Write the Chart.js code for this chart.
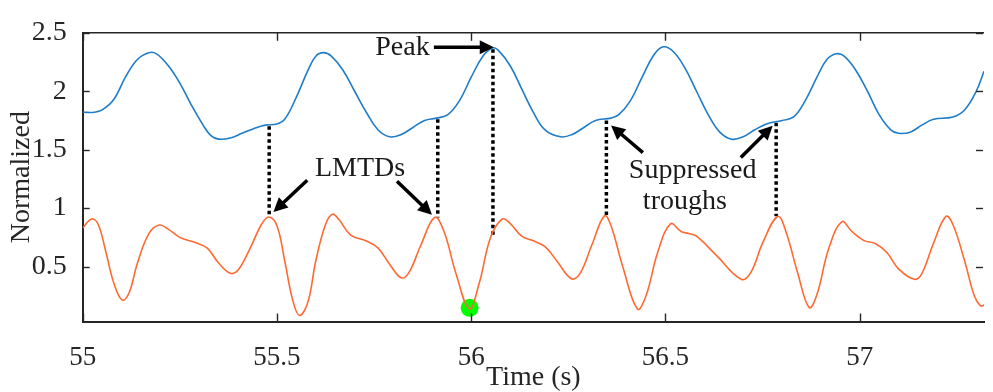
<!DOCTYPE html>
<html><head><meta charset="utf-8">
<script src="https://cdn.jsdelivr.net/npm/chart.js@4"></script>
<style>html,body{margin:0;padding:0;background:#fff;overflow:hidden}#wrap{width:993px;height:392px;position:relative}</style>
</head><body><div id="wrap"><canvas id="c" width="993" height="392"></canvas></div>
<script>
// ---- data ----
const xTickValues = [55, 55.5, 56, 56.5, 57];
const yTickValues = [0.5, 1, 1.5, 2, 2.5];

const blueTime = [55.00,55.03,55.05,55.08,55.11,55.14,55.17,55.19,55.22,55.25,55.28,55.31,55.33,55.35,55.38,55.41,55.44,55.47,55.50,55.52,55.55,55.58,55.60,55.62,55.64,55.67,55.70,55.73,55.76,55.79,55.82,55.85,55.88,55.91,55.94,55.97,56.00,56.03,56.055,56.07,56.10,56.13,56.16,56.19,56.23,56.26,56.29,56.32,56.36,56.38,56.41,56.44,56.47,56.495,56.52,56.55,56.58,56.61,56.64,56.67,56.70,56.73,56.76,56.80,56.83,56.86,56.89,56.915,56.94,56.96,56.99,57.02,57.05,57.08,57.10,57.13,57.16,57.19,57.24,57.27,57.30,57.32];
const blueValue = [1.82,1.82,1.84,1.93,2.12,2.27,2.33,2.32,2.22,2.07,1.88,1.71,1.62,1.59,1.60,1.64,1.68,1.71,1.72,1.76,1.95,2.18,2.30,2.33,2.30,2.18,2.00,1.82,1.67,1.61,1.63,1.69,1.75,1.77,1.80,1.92,2.12,2.30,2.37,2.35,2.22,2.02,1.82,1.67,1.61,1.63,1.69,1.75,1.77,1.80,1.92,2.12,2.31,2.38,2.34,2.20,2.00,1.80,1.65,1.59,1.61,1.67,1.72,1.75,1.78,1.92,2.12,2.27,2.32,2.30,2.18,2.00,1.80,1.67,1.64,1.65,1.71,1.76,1.78,1.84,2.00,2.17];

const orangeTime = [55.00,55.023,55.04,55.06,55.08,55.102,55.12,55.14,55.17,55.197,55.22,55.25,55.29,55.32,55.35,55.38,55.40,55.43,55.46,55.479,55.50,55.52,55.54,55.558,55.58,55.60,55.625,55.643,55.66,55.69,55.73,55.76,55.79,55.82,55.84,55.87,55.906,55.93,55.96,55.995,56.02,56.05,56.08,56.10,56.13,56.16,56.19,56.22,56.258,56.28,56.31,56.343,56.36,56.39,56.428,56.45,56.48,56.513,56.54,56.56,56.58,56.63,56.695,56.72,56.75,56.789,56.81,56.84,56.87,56.89,56.92,56.954,56.98,57.01,57.04,57.07,57.10,57.141,57.16,57.19,57.222,57.24,57.27,57.295,57.311,57.32];
const orangeValue = [0.83,0.907,0.86,0.62,0.36,0.213,0.28,0.52,0.78,0.855,0.82,0.75,0.705,0.66,0.53,0.443,0.47,0.65,0.86,0.924,0.85,0.55,0.22,0.082,0.20,0.55,0.86,0.948,0.90,0.77,0.719,0.66,0.52,0.404,0.45,0.68,0.92,0.80,0.45,0.14,0.35,0.75,0.907,0.87,0.76,0.72,0.67,0.55,0.396,0.44,0.68,0.934,0.85,0.50,0.137,0.25,0.62,0.866,0.80,0.782,0.76,0.60,0.391,0.45,0.70,0.929,0.80,0.45,0.15,0.26,0.65,0.883,0.80,0.724,0.697,0.62,0.48,0.391,0.44,0.70,0.929,0.86,0.55,0.25,0.164,0.17];

const markerTime = [55.996];
const markerValue = [0.147];

const guideTime = [55.48, 55.914, 56.056, 56.348, 56.785];
const guideTop = [1.70, 1.76, 2.36, 1.75, 1.73];
const guideBottom = [0.93, 0.92, 0.76, 0.93, 0.93];

// annotation arrows: [fromT, fromV, toT, toV]
const arrowList = [
  [55.904, 2.377, 56.058, 2.377],
  [55.578, 1.238, 55.491, 0.967],
  [55.809, 1.230, 55.899, 0.943],
  [56.442, 1.475, 56.360, 1.707],
  [56.694, 1.434, 56.776, 1.705]
];
const labelList = [
  ['Peak', 55.823, 2.377],
  ['LMTDs', 55.714, 1.339],
  ['Suppressed', 56.570, 1.320],
  ['troughs', 56.550, 1.052]
];

// ---- styling ----
const FONT = '"Liberation Serif", "Times New Roman", serif';
const AXIS = '#262626';

const toXY = (ts, vs) => ts.map((t, i) => ({x: t, y: vs[i]}));

const datasets = [
  {data: toXY(blueTime, blueValue), borderColor: '#1f7cc8', borderWidth: 1.6, pointRadius: 0, tension: 0.4, fill: false},
  {data: toXY(orangeTime, orangeValue), borderColor: '#ff6a33', borderWidth: 1.6, pointRadius: 0, tension: 0.4, fill: false}
];
guideTime.forEach((t, i) => {
  datasets.push({data: [{x: t, y: guideTop[i]}, {x: t, y: guideBottom[i]}], borderColor: '#000', borderWidth: 3.5, borderDash: [3.5, 3], pointRadius: 0, tension: 0, fill: false});
});
datasets.push({data: toXY(markerTime, markerValue), showLine: false, pointRadius: 9, pointBackgroundColor: '#00ff00', pointBorderWidth: 0, pointHoverRadius: 9});

function drawArrow(ctx, x1, y1, x2, y2) {
  const a = Math.atan2(y2 - y1, x2 - x1);
  const hl = 14, hw = 7;
  const bx = x2 - hl * Math.cos(a), by = y2 - hl * Math.sin(a);
  ctx.lineWidth = 3.5;
  ctx.beginPath(); ctx.moveTo(x1, y1); ctx.lineTo(bx + 2 * Math.cos(a), by + 2 * Math.sin(a)); ctx.stroke();
  ctx.beginPath();
  ctx.moveTo(x2, y2);
  ctx.lineTo(bx + hw * Math.sin(a), by - hw * Math.cos(a));
  ctx.lineTo(bx - hw * Math.sin(a), by + hw * Math.cos(a));
  ctx.closePath(); ctx.fill();
}

const decor = {
  id: 'decor',
  afterDatasetsDraw(chart) {
    const {ctx, scales: {x, y}} = chart;
    ctx.save();
    ctx.strokeStyle = '#000'; ctx.fillStyle = '#000'; ctx.lineCap = 'butt';
    arrowList.forEach(a => drawArrow(ctx, x.getPixelForValue(a[0]), y.getPixelForValue(a[1]), x.getPixelForValue(a[2]), y.getPixelForValue(a[3])));
    ctx.font = '28px ' + FONT; ctx.fillStyle = '#1a1a1a';
    ctx.textAlign = 'center'; ctx.textBaseline = 'middle';
    labelList.forEach(l => ctx.fillText(l[0], x.getPixelForValue(l[1]), y.getPixelForValue(l[2])));
    ctx.restore();
  },
  afterDraw(chart) {
    const {ctx, chartArea: {left, right, top, bottom}, scales: {x, y}} = chart;
    ctx.save();
    ctx.strokeStyle = AXIS; ctx.lineWidth = 1.6;
    ctx.beginPath(); ctx.moveTo(left, top); ctx.lineTo(right, top); ctx.stroke();
    ctx.lineWidth = 1.4;
    xTickValues.forEach(v => {
      const px = Math.round(x.getPixelForValue(v)) + 0.5;
      ctx.beginPath(); ctx.moveTo(px, bottom); ctx.lineTo(px, bottom - 8); ctx.stroke();
      ctx.beginPath(); ctx.moveTo(px, top); ctx.lineTo(px, top + 8); ctx.stroke();
    });
    yTickValues.forEach(v => {
      const py = Math.round(y.getPixelForValue(v)) + 0.5;
      ctx.beginPath(); ctx.moveTo(left, py); ctx.lineTo(left + 7, py); ctx.stroke();
      ctx.beginPath(); ctx.moveTo(right - 1, py); ctx.lineTo(right - 8, py); ctx.stroke();
    });
    ctx.restore();
  }
};

new Chart(document.getElementById('c'), {
  type: 'line',
  data: {datasets},
  options: {
    responsive: false, animation: false, devicePixelRatio: 1,
    layout: {padding: {top: 20, right: 0, bottom: 0, left: 0}},
    plugins: {legend: {display: false}, tooltip: {enabled: false}},
    events: [],
    scales: {
      x: {
        type: 'linear', min: 55, max: 57.32,
        grid: {display: false, drawTicks: false},
        border: {display: true, color: AXIS, width: 2},
        afterBuildTicks: s => { s.ticks = xTickValues.map(v => ({value: v})); },
        afterFit: s => { s.height = 70.5; },
        ticks: {font: {family: FONT, size: 27}, color: AXIS, padding: 20, maxRotation: 0, autoSkip: false, callback: v => String(v)},
        title: {display: true, text: 'Time (s)', color: AXIS, font: {family: FONT, size: 28, lineHeight: 1}, padding: {top: 0, bottom: 0}}
      },
      y: {
        type: 'linear', min: 0.03, max: 2.5,
        grid: {display: false, drawTicks: false},
        border: {display: true, color: AXIS, width: 2},
        afterBuildTicks: s => { s.ticks = yTickValues.map(v => ({value: v})); },
        afterFit: s => { s.width = 82.7; },
        ticks: {font: {family: FONT, size: 28}, color: AXIS, padding: 16, autoSkip: false, callback: v => String(v)},
        title: {display: true, text: 'Normalized', color: AXIS, font: {family: FONT, size: 28, lineHeight: 1}, padding: {top: 8, bottom: 0}}
      }
    }
  },
  plugins: [decor]
});
</script>
</body></html>
